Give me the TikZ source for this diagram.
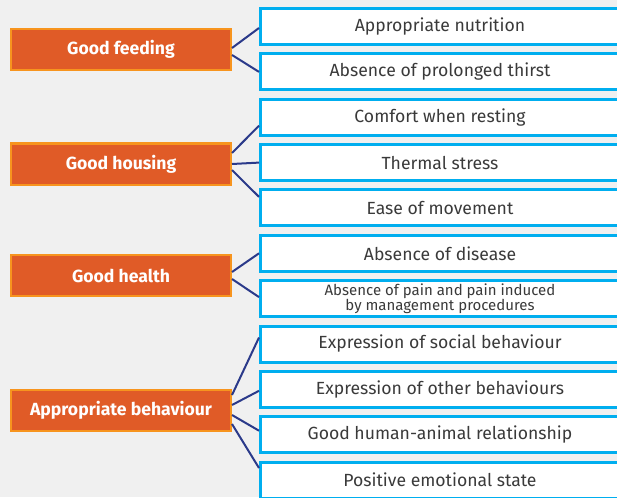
\documentclass[tikz,border=0pt]{standalone}
\usepackage{fontspec}
\setmainfont{Fira Sans}
\definecolor{bggrey}{HTML}{F0F0F0}
\definecolor{boxorange}{HTML}{E05B27}
\definecolor{edgeorange}{HTML}{F7941E}
\definecolor{critblue}{HTML}{00AEEF}
\definecolor{linknavy}{HTML}{2B3A8A}
\definecolor{textgrey}{HTML}{3A3A3A}

\begin{document}
\begin{tikzpicture}[x=1pt,y=-1pt,
    principle/.style={draw=edgeorange, line width=2pt, fill=boxorange, minimum width=220pt, minimum height=41pt, inner sep=0pt, text=white, font=\fontsize{17.6}{20}\selectfont\bfseries},
    criterion/.style={draw=critblue, line width=3pt, fill=white, minimum width=359pt, minimum height=36pt, inner sep=0pt, text=textgrey, font=\fontsize{17.6}{20}\selectfont},
    link/.style={draw=linknavy, line width=2pt}]
    \useasboundingbox (0,0) rectangle (617,497);
    \clip (0,0) rectangle (617,497);
    \fill[bggrey] (0,0) rectangle (617,497);

    % principles
    \node[principle] (feeding) at (121,49.5) {Good feeding};
    \node[principle] (housing) at (121,164) {Good housing};
    \node[principle] (health) at (121,275.5) {Good health};
    \node[principle] (behaviour) at (121,410.5) {Appropriate behaviour};

    % criteria
    \node[criterion] (nutrition) at (440,26.5) {Appropriate nutrition};
    \node[criterion] (thirst) at (440,71.9) {Absence of prolonged thirst};
    \node[criterion] (resting) at (440,117.2) {Comfort when resting};
    \node[criterion] (thermal) at (440,162.6) {Thermal stress};
    \node[criterion] (movement) at (440,207.9) {Ease of movement};
    \node[criterion] (disease) at (440,253.3) {Absence of disease};
    \node[criterion, align=center, font=\fontsize{15}{15}\selectfont] (pain) at (440,298.6) {Absence of pain and pain induced\\by management procedures};
    \node[criterion] (social) at (440,344) {Expression of social behaviour};
    \node[criterion] (other) at (440,389.3) {Expression of other behaviours};
    \node[criterion] (relation) at (440,434.7) {Good human-animal relationship};
    \node[criterion] (emotion) at (440,480) {Positive emotional state};

    % links
    \draw[link] ([yshift=1.5pt]feeding.east) -- ([yshift=-1.5pt]nutrition.west);
    \draw[link] ([yshift=-5.5pt]feeding.east) -- (thirst.west);
    \draw[link] ([yshift=11pt]housing.east) -- ([yshift=-8.5pt]resting.west);
    \draw[link] (housing.east) -- (thermal.west);
    \draw[link] ([yshift=-6pt]housing.east) -- ([yshift=11pt]movement.west);
    \draw[link] ([yshift=3.5pt]health.east) -- (disease.west);
    \draw[link] ([yshift=-3.5pt]health.east) -- ([yshift=1.5pt]pain.west);
    \draw[link] ([yshift=15.5pt]behaviour.east) -- ([yshift=6.5pt]social.west);
    \draw[link] ([yshift=5.5pt]behaviour.east) -- ([yshift=-1.5pt]other.west);
    \draw[link] ([yshift=-4.5pt]behaviour.east) -- ([yshift=4pt]relation.west);
    \draw[link] ([yshift=-13.5pt]behaviour.east) -- ([yshift=12pt]emotion.west);
\end{tikzpicture}
\end{document}
